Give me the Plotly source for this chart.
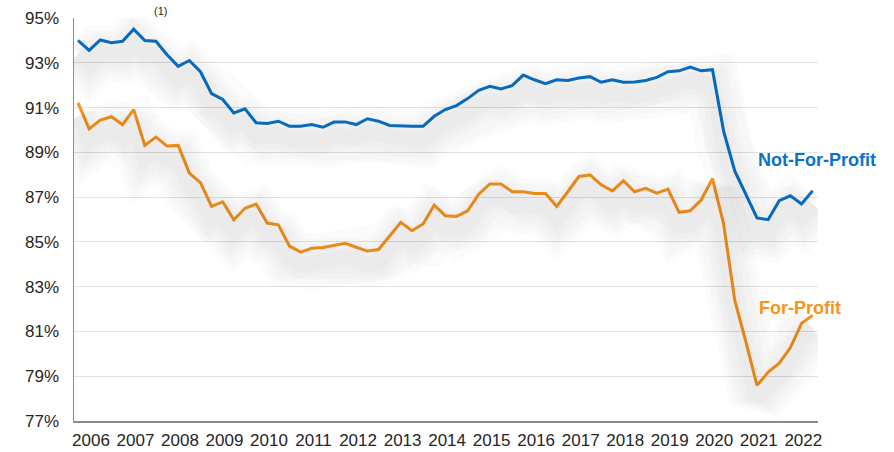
import plotly.graph_objects as go

# Quarterly observations, 2006 Q1 .. 2022 Q3
quarters = [f"{y}Q{q}" for y in range(2006, 2023) for q in range(1, 5)][:67]

not_for_profit = [
    94.00, 93.55, 94.02, 93.90, 93.96, 94.50, 93.99, 93.96, 93.36, 92.84,
    93.10, 92.60, 91.62, 91.36, 90.76, 90.94, 90.32, 90.29, 90.39, 90.17,
    90.17, 90.24, 90.12, 90.35, 90.36, 90.24, 90.50, 90.39, 90.20, 90.17,
    90.16, 90.16, 90.61, 90.91, 91.09, 91.40, 91.77, 91.95, 91.83, 91.98,
    92.45, 92.24, 92.07, 92.24, 92.21, 92.32, 92.38, 92.13, 92.24, 92.13,
    92.14, 92.21, 92.35, 92.60, 92.64, 92.81, 92.64, 92.69, 89.95, 88.17,
    87.10, 86.07, 85.99, 86.84, 87.06, 86.69, 87.28,
]

for_profit = [
    91.21, 90.05, 90.44, 90.59, 90.24, 90.91, 89.31, 89.68, 89.28, 89.31,
    88.07, 87.65, 86.59, 86.79, 85.99, 86.50, 86.69, 85.84, 85.76, 84.81,
    84.54, 84.72, 84.75, 84.84, 84.94, 84.76, 84.59, 84.66, 85.25, 85.87,
    85.50, 85.80, 86.64, 86.17, 86.14, 86.39, 87.13, 87.59, 87.59, 87.24,
    87.24, 87.16, 87.16, 86.59, 87.24, 87.92, 87.99, 87.55, 87.28, 87.73,
    87.24, 87.39, 87.18, 87.36, 86.32, 86.39, 86.88, 87.83, 85.80, 82.40,
    80.54, 78.59, 79.18, 79.58, 80.28, 81.36, 81.72,
]

year_labels = [str(y) for y in range(2006, 2023)]
y_ticks = [77, 79, 81, 83, 85, 87, 89, 91, 93, 95]

BLUE = "#0A72CC"
ORANGE = "#F7941E"

x = [int(q[:4]) + (int(q[-1]) - 1) / 4 for q in quarters]

fig = go.Figure()

# soft drop shadow (drawn on a slightly shifted overlay axis)
for series in (not_for_profit, for_profit):
    for w in (56, 46, 36, 26, 16):
        fig.add_trace(go.Scatter(x=x, y=series, mode="lines", yaxis="y2",
                                 line=dict(color="rgba(0,0,0,0.016)", width=w),
                                 hoverinfo="skip", showlegend=False))

fig.add_trace(go.Scatter(x=x, y=not_for_profit, mode="lines", name="Not-For-Profit",
                         line=dict(color=BLUE, width=3), hoverinfo="skip"))
fig.add_trace(go.Scatter(x=x, y=for_profit, mode="lines", name="For-Profit",
                         line=dict(color=ORANGE, width=3), hoverinfo="skip"))

fig.update_layout(
    width=894, height=452,
    margin=dict(l=74, r=76, t=18, b=31, autoexpand=False),
    paper_bgcolor="#ffffff", plot_bgcolor="#ffffff",
    showlegend=False,
    font=dict(family="Liberation Sans, Arial, sans-serif", color="#262626"),
    xaxis=dict(
        range=[2005.91, 2022.62],
        tickvals=[int(y) + 0.29 for y in year_labels],
        ticktext=year_labels,
        tickfont=dict(size=17),
        showgrid=False, zeroline=False,
        showline=True, linecolor="#8c8c8c", linewidth=1.5,
        ticks="", ticklabelstandoff=3, automargin=False,
    ),
    yaxis=dict(
        range=[77, 95],
        tickvals=y_ticks,
        ticktext=[f"{v}%" for v in y_ticks],
        tickfont=dict(size=17),
        showgrid=True, gridcolor="#e3e3e3", gridwidth=1,
        zeroline=False,
        showline=True, linecolor="#8c8c8c", linewidth=1.5,
        ticks="", ticklabelstandoff=10, automargin=False,
    ),
    yaxis2=dict(
        range=[77.6, 95.6], overlaying="y", visible=False,
        showgrid=False, zeroline=False, automargin=False,
    ),
    annotations=[
        dict(x=2007.86, y=1.0, xref="x", yref="paper", text="(1)", showarrow=False,
             font=dict(size=11, color="#262626"),
             xanchor="center", yanchor="bottom", yshift=-1),
        dict(xref="paper", yref="y", x=1.0, y=88.64, text="<b>Not-For-Profit</b>",
             showarrow=False, xanchor="center", xshift=-1,
             font=dict(size=18, color=BLUE)),
        dict(xref="paper", yref="y", x=0.976, y=82.04, text="<b>For-Profit</b>",
             showarrow=False, xanchor="center",
             font=dict(size=18, color=ORANGE)),
    ],
)

fig.write_html(
    "out.html",
    config={"displayModeBar": False, "staticPlot": True},
    post_script="document.body.style.margin='0';document.body.style.overflow='hidden';",
)
